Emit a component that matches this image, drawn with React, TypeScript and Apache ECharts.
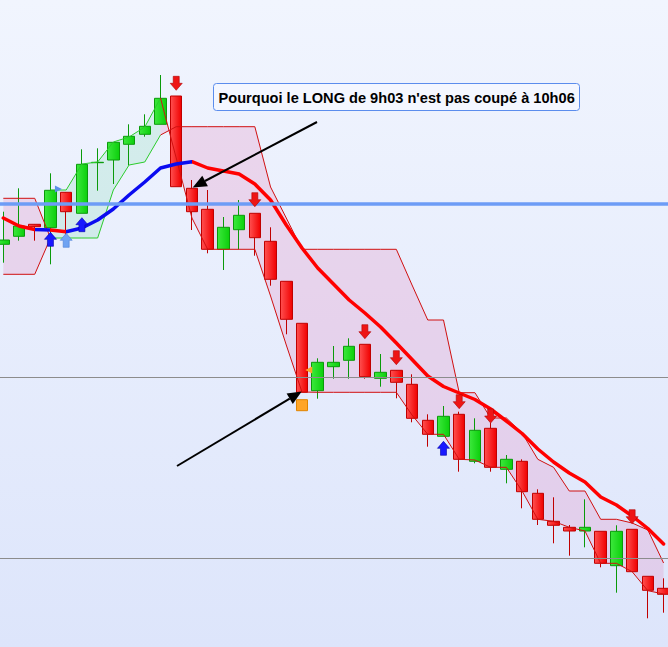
import React, { useEffect, useRef } from 'react';
import * as echarts from 'echarts';

// Candles: [open, close, low, high]
const candles: number[][] = [
  [455.7, 460, 437.3, 488.3],
  [463.7, 474, 459.3, 511.7],
  [475.7, 473.3, 459.3, 476],
  [472.3, 509.7, 435.7, 526.7],
  [507.7, 488.3, 460, 508],
  [486.7, 535.7, 486.7, 550.7],
  [537.3, 537.7, 509.3, 551.7],
  [540, 557.7, 516, 557.7],
  [555.7, 563.7, 534.7, 575.7],
  [565.7, 573.7, 563.3, 585.7],
  [575.7, 601.7, 575.7, 625],
  [604, 513.3, 513.3, 604],
  [511.7, 488.3, 470, 520],
  [490.7, 450.7, 446.7, 510],
  [450.7, 472.7, 430, 483],
  [470.3, 484.7, 450.7, 500],
  [486.7, 462.3, 444.3, 486.7],
  [458.7, 420.7, 414.3, 472.7],
  [418.7, 380.7, 365.7, 418.7],
  [376.7, 307.7, 307.7, 376.7],
  [309.3, 337.7, 301.3, 341.7],
  [333.3, 337.7, 321.3, 354],
  [339.7, 353.7, 321.3, 361.7],
  [355.7, 323.3, 321.3, 355.7],
  [321.7, 327.7, 313.3, 346],
  [329.7, 317.7, 301.7, 330],
  [315.7, 281.7, 277.7, 325.7],
  [279.7, 265.7, 253.3, 285.7],
  [263.7, 283.7, 263.7, 294],
  [285.7, 240.7, 228.3, 288.3],
  [238.7, 269.7, 236.7, 281.7],
  [271.7, 232.7, 228.3, 277],
  [230.7, 240.7, 216.7, 245],
  [238.7, 208.3, 191.7, 240.7],
  [206.7, 180.7, 175, 210.7],
  [178.7, 174.7, 156.7, 202.7],
  [172.7, 169, 144.3, 175],
  [169, 172.7, 152.7, 200.7],
  [168.7, 136.7, 132.7, 168.7],
  [134.3, 168.7, 107.3, 174.7],
  [170.7, 128.3, 128.3, 170.7],
  [123.7, 109.7, 81.7, 123.7],
  [111.7, 105.7, 87.3, 121.7],
];

const categories = candles.map((_, i) => String(i));

// Moving average
const movingAverage = [
  482, 474, 470.5, 470, 468.3, 472, 480, 491, 505, 518, 532, 536, 538.3, 532, 529, 526,
  516, 500, 475, 452, 432, 416, 400, 387, 373, 357, 340.5, 324, 313.5, 307, 300.5, 291,
  279, 266.5, 251, 238, 227, 218, 203, 195, 184, 171.5, 156,
];
// Colour runs of the average: [fromIndex, toIndex, trend]
const maRuns: [number, number, 'up' | 'down'][] = [
  [0, 2, 'down'], [2, 3, 'up'], [3, 4, 'down'], [4, 12, 'up'], [12, 42, 'down'],
];

// Trailing bands
const pinkAStart = 0;
const pinkAUpper = [501.7, 501.7, 501.7, 462];
const pinkALower = [425.7, 425.7, 425.7, 462];
const greenStart = 3;
const greenUpper = [510, 510, 536, 538, 558, 563, 573, 602];
const greenLower = [462, 462, 462, 462, 510, 535, 538, 565];
const pinkBStart = 10;
const pinkBUpper = [
  565, 573.3, 573.3, 573.3, 573.3, 573.3, 573.3, 513, 482, 450.7, 450.7, 450.7, 450.7, 450.7,
  450.7, 450.7, 415, 380, 380, 307.3, 307.3, 282, 282, 267, 240.7, 232.7, 209, 209, 180.7,
  180.7, 177, 170, 137,
];
const pinkBLower = [
  602, 542, 482, 450.7, 450.7, 450.7, 450.7, 404, 355, 308, 307.7, 307.7, 307.7, 307.7, 307.7,
  307.7, 285, 265.7, 265.7, 240.7, 240, 232.7, 232.7, 209, 180.7, 178.7, 172.7, 169, 136.7,
  136.7, 128.3, 109.3, 106,
];

// Reference levels
const blueLevel = 496.5;
const greyLevels = [322.7, 141.7];

// Signals
const sellArrows: [number, number][] = [
  [11, 616.7], [16, 500.3], [23, 368.3], [25, 342.3], [29, 298.3], [31, 284], [40, 183.3],
];
const buyArrows: [number, number][] = [[3, 460.7], [5, 475.3], [28, 251.7]];
const buyArrowsLight: [number, number][] = [[4, 459.7]];
const orangeSquares: [number, number][] = [[19, 294.8]];
const orangeTriangles: [number, number][] = [[20, 330]];
const blueTriangles: [number, number][] = [[3, 511]];

const annotationText = "Pourquoi le LONG de 9h03 n'est pas coupé à 10h06";

const RED = '#ff0000';
const BLUE = '#0b0bf0';

export default function App() {
  const ref = useRef<HTMLDivElement>(null);

  useEffect(() => {
    const chart = echarts.init(ref.current!, null, { renderer: 'svg' });

    const bands = [
      { start: pinkAStart, upper: pinkAUpper, lower: pinkALower, fill: 'rgba(230,150,200,0.3)', stroke: '#d01010' },
      { start: greenStart, upper: greenUpper, lower: greenLower, fill: 'rgba(90,215,150,0.17)', stroke: '#2ccc2c' },
      { start: pinkBStart, upper: pinkBUpper, lower: pinkBLower, fill: 'rgba(230,150,200,0.3)', stroke: '#d01010' },
    ];

    const downPath = 'path://M3,0 L9,0 L9,7 L12,7 L6,14 L0,7 L3,7 Z';
    const upPath = 'path://M6,0 L12,7 L9,7 L9,14 L3,14 L3,7 L0,7 Z';

    const pieces = maRuns.map(([a, b, t], k) => {
      const p: any = { color: t === 'up' ? BLUE : RED };
      if (k > 0) p.gt = a;
      if (k < maRuns.length - 1) p.lte = b;
      return p;
    });

    const option: any = {
      animation: false,
      backgroundColor: new echarts.graphic.LinearGradient(0, 0, 0, 1, [
        { offset: 0, color: '#f1f5fe' },
        { offset: 1, color: '#dde5fb' },
      ]),
      grid: { left: -4.56, top: 0, width: 676, height: 647, outerBoundsMode: 'none', containLabel: false },
      xAxis: {
        type: 'category',
        data: categories,
        boundaryGap: true,
        show: false,
      },
      yAxis: {
        type: 'value',
        min: 53,
        max: 700,
        show: false,
        splitLine: { show: false },
      },
      visualMap: {
        show: false,
        type: 'piecewise',
        seriesIndex: 3,
        dimension: 0,
        pieces,
      },
      series: [
        {
          type: 'custom',
          z: 1,
          silent: true,
          data: bands.map((b) => [b.start, b.upper[0]]),
          renderItem: (params: any, api: any) => {
            const b = bands[params.dataIndex];
            const up = b.upper.map((v, j) => api.coord([b.start + j, v]));
            const lo = b.lower.map((v, j) => api.coord([b.start + j, v]));
            return {
              type: 'polygon',
              shape: { points: up.concat(lo.slice().reverse()) },
              style: { fill: b.fill },
            };
          },
        },
        {
          type: 'candlestick',
          z: 2,
          barWidth: 12,
          data: candles,
          itemStyle: {
            color: new echarts.graphic.LinearGradient(0, 0, 1, 0, [
              { offset: 0, color: '#3ce83c' },
              { offset: 1, color: '#0ccf0c' },
            ]),
            color0: new echarts.graphic.LinearGradient(0, 0, 1, 0, [
              { offset: 0, color: '#ff5050' },
              { offset: 1, color: '#f00000' },
            ]),
            borderColor: '#0a9a0a',
            borderColor0: '#c00000',
            borderWidth: 1,
          },
        },
        {
          type: 'custom',
          z: 3,
          silent: true,
          data: bands.map((b) => [b.start, b.upper[0]]),
          renderItem: (params: any, api: any) => {
            const b = bands[params.dataIndex];
            const up = b.upper.map((v, j) => api.coord([b.start + j, v]));
            const lo = b.lower.map((v, j) => api.coord([b.start + j, v]));
            return {
              type: 'group',
              children: [
                { type: 'polyline', shape: { points: up }, style: { stroke: b.stroke, lineWidth: 1, fill: null } },
                { type: 'polyline', shape: { points: lo }, style: { stroke: b.stroke, lineWidth: 1, fill: null } },
              ],
            };
          },
        },
        {
          type: 'line',
          z: 4,
          data: movingAverage,
          showSymbol: false,
          symbol: 'none',
          lineStyle: { width: 3.5, cap: 'round', join: 'round' },
          silent: true,
          markLine: {
            silent: true,
            symbol: 'none',
            label: { show: false },
            data: [
              { yAxis: blueLevel, lineStyle: { color: '#6d9cf6', width: 3.5, type: 'solid' } },
              ...greyLevels.map((v) => ({ yAxis: v, lineStyle: { color: '#8c8c8c', width: 1, type: 'solid' } })),
            ],
          },
        },
        {
          type: 'scatter',
          z: 5,
          symbol: downPath,
          symbolSize: [12, 14],
          data: sellArrows,
          itemStyle: { color: '#ee1515', borderColor: '#b00000', borderWidth: 0.6, opacity: 1 },
        },
        {
          type: 'scatter',
          z: 5,
          symbol: upPath,
          symbolSize: [12, 14],
          data: buyArrows,
          itemStyle: { color: '#1818ff', borderColor: '#0000aa', borderWidth: 0.6, opacity: 1 },
        },
        {
          type: 'scatter',
          z: 5,
          symbol: upPath,
          symbolSize: [12, 14],
          data: buyArrowsLight,
          itemStyle: { color: '#6fa3f2', borderColor: '#4a7fd8', borderWidth: 0.6, opacity: 1 },
        },
        {
          type: 'scatter',
          z: 5,
          symbol: 'rect',
          symbolSize: 11,
          data: orangeSquares,
          itemStyle: { color: '#ffa528', borderColor: '#e08400', borderWidth: 1, opacity: 1 },
        },
        {
          type: 'scatter',
          z: 5,
          symbol: 'triangle',
          symbolSize: 7,
          symbolRotate: 90,
          symbolOffset: [-9, 0],
          data: orangeTriangles,
          itemStyle: { color: '#ffa528', opacity: 1 },
        },
        {
          type: 'scatter',
          z: 5,
          symbol: 'triangle',
          symbolSize: 7,
          symbolRotate: -90,
          symbolOffset: [8, 0],
          data: blueTriangles,
          itemStyle: { color: '#5c90e6', opacity: 1 },
        },
      ],
      graphic: [
        {
          type: 'rect',
          z: 100,
          shape: { x: 213.5, y: 83.5, width: 366, height: 27, r: 3 },
          style: { fill: 'rgba(243,247,255,0.95)', stroke: '#5b8ded', lineWidth: 1 },
        },
        {
          type: 'text',
          z: 101,
          x: 218.5,
          y: 97.5,
          style: {
            text: annotationText,
            font: 'bold 14.6px "Liberation Sans", Arial, sans-serif',
            fill: '#000',
            verticalAlign: 'middle',
          },
        },
        {
          type: 'line',
          z: 100,
          shape: { x1: 317, y1: 122, x2: 205, y2: 181 },
          style: { stroke: '#000', lineWidth: 2 },
        },
        {
          type: 'polygon',
          z: 100,
          shape: { points: [[192.7, 187.5], [207.9, 186.3], [202.3, 175.7]] },
          style: { fill: '#000' },
        },
        {
          type: 'line',
          z: 100,
          shape: { x1: 177, y1: 466, x2: 289.7, y2: 398.7 },
          style: { stroke: '#000', lineWidth: 2 },
        },
        {
          type: 'polygon',
          z: 100,
          shape: { points: [[301.7, 391.5], [292.8, 403.9], [286.6, 393.5]] },
          style: { fill: '#000' },
        },
      ],
    };

    chart.setOption(option);
    return () => chart.dispose();
  }, []);

  return (
    <div
      ref={ref}
      style={{ position: 'fixed', left: 0, top: 0, width: 668, height: 647 }}
    />
  );
}
